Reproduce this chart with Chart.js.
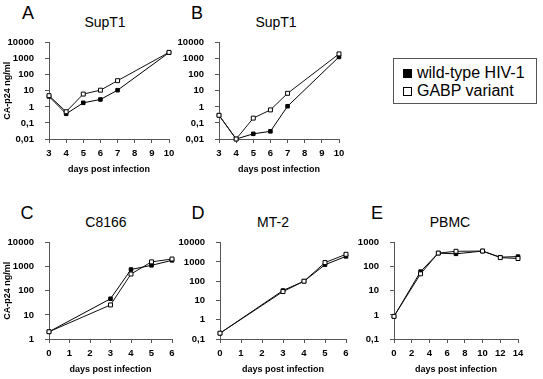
<!DOCTYPE html>
<html>
<head>
<meta charset="utf-8">
<script src="https://cdn.jsdelivr.net/npm/chart.js@4.4.0/dist/chart.umd.min.js"></script>
<style>
body { margin: 0; background: #fff; width: 543px; height: 379px; position: relative; overflow: hidden; font-family: "Liberation Sans", Arial, sans-serif; color: #000; }
canvas { position: absolute; }
.letra { position: absolute; font-size: 18px; line-height: 1; transform: translate(-50%, -50%); }
.titulo { position: absolute; font-size: 14px; line-height: 1; transform: translate(-50%, -50%); white-space: nowrap; }
#leyenda { position: absolute; left: 393px; top: 58px; width: 142px; height: 44px; border: 1px solid #555; }
.fila { position: absolute; left: 9px; height: 16px; line-height: 16px; font-size: 16px; white-space: nowrap; }
.cuadro { display: inline-block; width: 9px; height: 9px; box-sizing: border-box; border: 1px solid #000; margin-right: 5px; vertical-align: 0px; }
</style>
</head>
<body>
<div class="letra" style="left:28px;top:13px;">A</div>
<div class="letra" style="left:197px;top:13px;">B</div>
<div class="letra" style="left:27px;top:213px;">C</div>
<div class="letra" style="left:198px;top:213px;">D</div>
<div class="letra" style="left:377px;top:213px;">E</div>

<div class="titulo" style="left:105px;top:22px;">SupT1</div>
<div class="titulo" style="left:276px;top:22px;">SupT1</div>
<div class="titulo" style="left:106px;top:222px;">C8166</div>
<div class="titulo" style="left:273px;top:222px;">MT-2</div>
<div class="titulo" style="left:450px;top:222px;">PBMC</div>

<div id="leyenda">
    <div class="fila" style="top:6px;"><span class="cuadro" style="background:#000;"></span>wild-type HIV-1</div>
    <div class="fila" style="top:24px;"><span class="cuadro" style="background:#fff;"></span>GABP variant</div>
</div>

<canvas id="graficoA"></canvas>
<canvas id="graficoB"></canvas>
<canvas id="graficoC"></canvas>
<canvas id="graficoD"></canvas>
<canvas id="graficoE"></canvas>

<script>
// dias post infeccion
var diasAB = [3, 4, 5, 6, 7, 10];
var diasCD = [0, 3, 4, 5, 6];
var diasE = [0, 3, 5, 7, 10, 12, 14];

// CA-p24 ng/ml, wild-type HIV-1 (relleno) y GABP variant (vacio)
var silvestreA = [4.5, 0.37, 1.8, 2.9, 11, 2400];
var gabpA = [5, 0.5, 6.3, 11, 43, 2500];
var silvestreB = [0.3, 0.01, 0.021, 0.03, 1.1, 1300];
var gabpB = [0.3, 0.01, 0.2, 0.65, 7, 2000];
var silvestreC = [2, 47, 770, 1150, 1850];
var gabpC = [2, 26, 500, 1600, 2100];
var silvestreD = [0.2, 33, 100, 720, 1950];
var gabpD = [0.2, 29, 100, 930, 2500];
var silvestreE = [0.87, 63, 370, 345, 450, 250, 265];
var gabpE = [0.87, 51, 370, 440, 450, 240, 220];

// marcas de los ejes
var ticksYAB = [0.01, 0.1, 1, 10, 100, 1000, 10000];
var ticksYC = [1, 10, 100, 1000, 10000];
var ticksYD = [0.1, 1, 10, 100, 1000, 10000];
var ticksYE = [0.1, 1, 10, 100, 1000];

var tituloY = 'CA-p24 ng/ml';
var tituloX = 'days post infection';

var GRIS = '#555';

function puntos(xs, ys) {
    var arr = [];
    for (var i = 0; i < xs.length; i++) {
        arr.push({x: xs[i], y: ys[i]});
    }
    return arr;
}

function formatoTick(v) {
    return String(v).replace('.', ',');
}

function crearGrafico(id, area, dias, silvestre, gabp, xmin, xmax, paso, ticksY, conTituloY) {
    var ancho = 49 + (area.right - area.left) + 14;
    var alto = 12 + (area.bottom - area.top) + 36;
    var canvas = document.getElementById(id);
    canvas.width = ancho;
    canvas.height = alto;
    canvas.style.left = (area.left - 49) + 'px';
    canvas.style.top = (area.top - 12) + 'px';

    return new Chart(canvas, {
        type: 'line',
        data: {
            datasets: [{
                data: puntos(dias, gabp),
                borderColor: '#111',
                borderWidth: 1,
                pointStyle: 'rect',
                pointRadius: 2.8,
                pointBackgroundColor: '#fff',
                pointBorderColor: '#000',
                pointBorderWidth: 1,
                tension: 0,
                clip: false
            }, {
                data: puntos(dias, silvestre),
                borderColor: '#000',
                borderWidth: 1,
                pointStyle: 'rect',
                pointRadius: 2.5,
                pointBackgroundColor: '#000',
                pointBorderColor: '#000',
                pointBorderWidth: 1,
                tension: 0,
                clip: false
            }]
        },
        options: {
            responsive: false,
            animation: false,
            devicePixelRatio: 1,
            layout: {padding: {left: 0, top: 12, right: 14, bottom: 0}},
            plugins: {legend: {display: false}, tooltip: {enabled: false}},
            scales: {
                x: {
                    type: 'linear',
                    min: xmin,
                    max: xmax,
                    afterFit: function (s) { s.height = 36; },
                    ticks: {
                        stepSize: paso,
                        padding: 5,
                        color: '#000',
                        font: {family: '"Liberation Sans", Arial, sans-serif', size: 9.5, weight: 'bold'}
                    },
                    grid: {drawOnChartArea: false, drawTicks: true, tickLength: 4, color: GRIS},
                    border: {display: true, color: GRIS, width: 1},
                    title: {
                        display: true,
                        text: tituloX,
                        color: '#000',
                        padding: {top: 0, bottom: 0},
                        font: {family: '"Liberation Sans", Arial, sans-serif', size: 9, weight: 'bold'}
                    }
                },
                y: {
                    type: 'logarithmic',
                    min: ticksY[0],
                    max: ticksY[ticksY.length - 1],
                    afterFit: function (s) { s.width = 49; },
                    afterBuildTicks: function (s) {
                        s.ticks = ticksY.map(function (v) { return {value: v}; });
                    },
                    ticks: {
                        padding: 11,
                        color: '#000',
                        autoSkip: false,
                        callback: function (v) { return formatoTick(v); },
                        font: {family: '"Liberation Sans", Arial, sans-serif', size: 9.5, weight: 'bold'}
                    },
                    grid: {drawOnChartArea: false, drawTicks: true, tickLength: 4, color: GRIS},
                    border: {display: true, color: GRIS, width: 1},
                    title: {
                        display: conTituloY,
                        text: tituloY,
                        color: '#000',
                        padding: {top: 2, bottom: 0},
                        font: {family: '"Liberation Sans", Arial, sans-serif', size: 9, weight: 'bold'}
                    }
                }
            }
        }
    });
}

crearGrafico('graficoA', {left: 49, right: 169, top: 38, bottom: 139}, diasAB, silvestreA, gabpA, 3, 10, 1, ticksYAB, true);
crearGrafico('graficoB', {left: 219, right: 339, top: 38, bottom: 139}, diasAB, silvestreB, gabpB, 3, 10, 1, ticksYAB, false);
crearGrafico('graficoC', {left: 49, right: 172, top: 238, bottom: 339}, diasCD, silvestreC, gabpC, 0, 6, 1, ticksYC, true);
crearGrafico('graficoD', {left: 220, right: 346, top: 238, bottom: 339}, diasCD, silvestreD, gabpD, 0, 6, 1, ticksYD, false);
crearGrafico('graficoE', {left: 394, right: 518, top: 238, bottom: 339}, diasE, silvestreE, gabpE, 0, 14, 2, ticksYE, false);
</script>
</body>
</html>
